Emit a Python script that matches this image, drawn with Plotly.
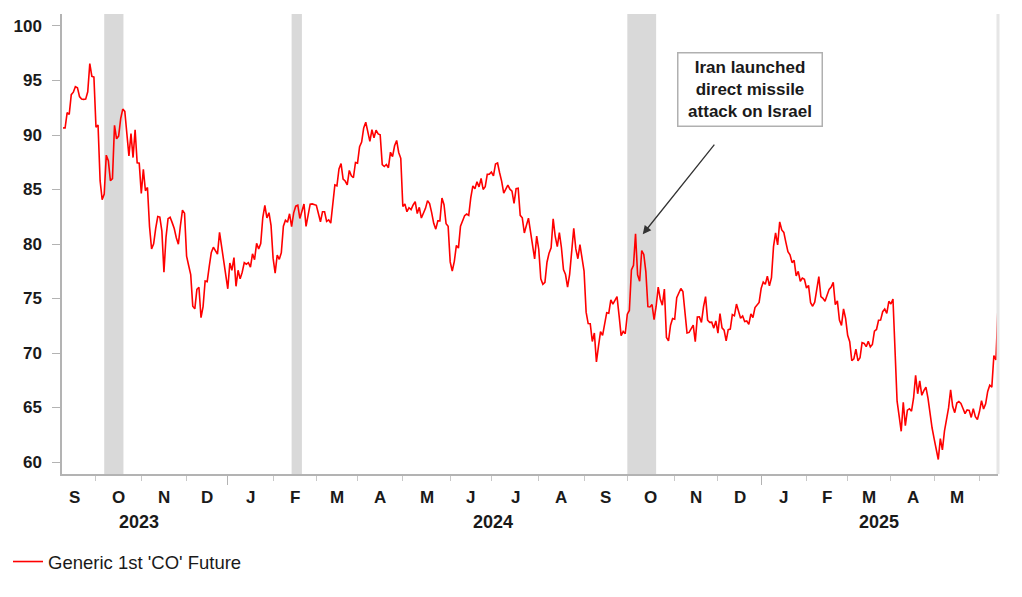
import pandas as pd
import plotly.graph_objects as go

# ---------------- data (daily closes) ----------------
sep23 = [90.65, 90.64, 92.06, 91.88, 93.70, 93.93, 94.43, 94.34, 93.53, 93.30, 93.27, 93.29, 93.96, 96.55, 95.38, 95.31]
oct23 = [90.71, 90.92, 85.81, 84.07, 84.58, 88.15, 87.65, 85.82, 86.00, 90.89, 89.65, 89.90, 91.50, 92.38, 92.16, 89.83,
         88.07, 90.13, 87.93, 90.48, 87.45, 87.41]
nov23 = [84.63, 86.85, 84.89, 85.18, 81.61, 79.54, 80.01, 81.43, 82.52, 82.47, 81.18, 77.42, 80.61, 82.32, 82.45, 81.96,
         81.42, 80.58, 79.98, 81.68, 83.10, 82.83]
dec23 = [78.88, 78.03, 77.20, 74.30, 74.05, 75.84, 76.03, 73.24, 74.26, 76.61, 76.55, 77.95, 79.23, 79.70, 79.39, 79.07,
         81.07, 79.65, 78.39, 77.04]
jan24 = [75.89, 78.25, 77.59, 78.76, 76.12, 77.59, 76.80, 77.41, 78.29, 78.15, 78.29, 77.88, 79.10, 78.56, 80.06, 79.55,
         80.04, 82.43, 83.55, 82.40, 82.87, 81.71]
feb24 = [78.70, 77.33, 78.99, 78.59, 79.21, 81.63, 82.19, 82.00, 82.77, 81.60, 82.86, 83.47, 83.56, 82.34, 83.03, 83.67,
         81.62, 82.53, 83.65, 83.68, 83.62]
mar24 = [83.55, 82.80, 82.04, 82.96, 82.96, 82.08, 82.21, 81.92, 84.03, 85.42, 85.34, 86.89, 87.38, 85.95, 85.78, 85.43,
         86.75, 86.25, 86.09, 87.48]
apr24 = [87.42, 88.92, 89.35, 90.65, 91.17, 90.38, 89.42, 90.48, 89.74, 90.45, 90.10, 90.02, 87.29, 87.11, 87.29, 87.00,
         88.42, 88.02, 89.01, 89.50, 88.40, 87.86]
may24 = [83.44, 83.67, 82.96, 83.33, 83.16, 83.58, 83.88, 82.79, 83.36, 82.38, 82.75, 83.27, 83.98, 83.71, 82.88, 81.90,
         81.36, 82.12, 82.12, 84.22, 83.60, 81.86, 81.62]
jun24 = [78.36, 77.52, 78.41, 79.87, 79.62, 81.63, 82.08, 82.60, 82.75, 82.62, 84.25, 85.33, 85.07, 85.71, 85.24, 86.01,
         85.01, 85.25, 86.39, 86.41]
jul24 = [86.60, 86.24, 87.34, 87.43, 86.54, 85.75, 84.66, 85.08, 85.40, 85.03, 84.85, 83.73, 85.08, 85.11, 82.63, 82.40,
         81.01, 81.71, 82.37, 81.13, 79.78, 78.63, 80.72]
aug24 = [79.52, 76.81, 76.30, 76.48, 78.33, 79.16, 79.66, 82.30, 80.69, 79.76, 81.04, 79.68, 77.66, 77.20, 76.05, 77.22,
         79.02, 81.43, 79.55, 78.65, 79.94, 78.80]
sep24 = [77.52, 73.75, 72.70, 72.69, 71.06, 71.84, 69.19, 70.61, 71.97, 71.61, 72.75, 73.70, 73.65, 74.88, 74.49, 74.90,
         75.17, 73.46, 71.60, 71.98, 71.77]
oct24 = [73.56, 73.90, 77.62, 78.05, 80.93, 77.18, 76.58, 79.40, 79.04, 77.46, 74.25, 74.22, 74.45, 73.06, 74.29, 76.04,
         74.96, 74.38, 75.86, 71.42, 71.12, 72.55, 73.16]
nov24 = [73.10, 75.08, 75.53, 75.92, 75.63, 73.87, 71.83, 71.89, 72.28, 72.56, 71.04, 73.30, 73.31, 72.81, 74.23, 75.17,
         73.01, 72.81, 72.83, 72.28, 72.94]
dec24 = [71.83, 73.62, 72.31, 72.09, 71.12, 72.14, 72.19, 73.52, 73.41, 74.49, 73.91, 73.19, 73.39, 72.88, 72.94, 72.63,
         73.58, 73.26, 74.17, 74.39, 74.64]
jan25 = [75.93, 76.51, 76.30, 77.05, 76.16, 76.92, 79.76, 81.01, 79.92, 82.03, 81.29, 81.06, 80.15, 79.29, 79.00, 78.29,
         78.50, 77.08, 77.49, 76.58, 76.87, 76.76]
feb25 = [75.96, 76.20, 74.61, 74.29, 74.66, 75.87, 77.00, 75.18, 75.02, 74.74, 75.22, 75.84, 76.04, 76.48, 74.43, 74.78,
         73.02, 72.53, 74.04, 73.18]
mar25 = [71.62, 71.04, 69.30, 69.46, 70.36, 69.28, 69.56, 70.95, 70.88, 70.58, 71.07, 70.56, 70.78, 72.00, 72.16, 73.00,
         73.02, 73.79, 74.03, 73.63, 74.74]
apr25 = [74.49, 74.95, 70.14, 65.58, 64.21, 62.82, 65.48, 63.33, 64.76, 64.88, 64.67, 65.85, 67.96, 66.26, 67.44, 66.12,
         66.55, 66.87, 65.86, 64.25, 63.12]
may25 = [62.13, 61.29, 60.23, 62.15, 61.12, 62.84, 63.91, 64.96, 66.63, 65.09, 64.53, 65.41, 65.54, 65.38, 64.91, 64.44,
         64.78, 64.74, 64.09, 64.90, 64.15, 63.90]
jun25 = [64.63, 65.63, 64.86, 65.34, 66.47, 67.04, 66.87, 69.77, 69.36, 74.23]

month_series = [sep23, oct23, nov23, dec23, jan24, feb24, mar24, apr24, may24, jun24, jul24, aug24,
                sep24, oct24, nov24, dec24, jan25, feb25, mar25, apr25, may25, jun25]
month_letters = ["S", "O", "N", "D", "J", "F", "M", "A", "M", "J", "J", "A", "S", "O", "N", "D", "J", "F", "M", "A", "M"]
year_labels = ["2023", "2024", "2025"]
year_label_dates = ["2023-10-31", "2024-07-02", "2025-03-24"]
holidays = ["2023-12-25", "2024-01-01", "2024-03-29", "2024-12-25", "2025-01-01", "2025-04-18"]
first_date, last_date = "2023-09-08", "2025-06-13"
event_bands = [("2023-10-06", "2023-10-19 08:00"), ("2024-02-14", "2024-02-21"), ("2024-10-01", "2024-10-21")]
series_name = "Generic 1st 'CO' Future"
event_text = "Iran launched<br>direct missile<br>attack on Israel"
event_point = ("2024-10-10 12:00", 80.9)

# ---------------- build date index ----------------
month_starts = pd.date_range("2023-09-01", "2025-06-01", freq="MS")
dates, values = [], []
for ms, vals in zip(month_starts, month_series):
    me = ms + pd.offsets.MonthEnd(0)
    s = max(ms, pd.Timestamp(first_date))
    e = min(me, pd.Timestamp(last_date))
    bd = pd.bdate_range(s, e, freq="C", holidays=holidays)
    if len(bd) != len(vals):
        raise ValueError(f"{ms:%Y-%m}: {len(bd)} days vs {len(vals)} values")
    dates.extend(bd)
    values.extend(vals)

# month boundary ticks (first trading day of each month) and label centres
boundary_ticks, label_pos = [], []
for ms in month_starts:
    me = ms + pd.offsets.MonthEnd(0)
    bd = pd.bdate_range(ms, me, freq="C", holidays=holidays)
    if ms > pd.Timestamp(first_date):
        boundary_ticks.append(bd[0])
    n = len(bd)
    mid = bd[n // 2] if n % 2 == 0 else bd[n // 2] + pd.Timedelta(hours=12)
    label_pos.append(mid)
year_ticks = [t for t in boundary_ticks if t.month == 1]

FONT = "Liberation Sans, Arial, sans-serif"
TXT = "#1a1a1a"
AX = "#b3b3b3"

# page body has an 8px margin: figure is sized so the plot area lands at 62..998 x 14..474
W, H = 1006, 581
ML, MT, PW, PH = 54, 6, 936, 460

fig = go.Figure()
fig.add_trace(go.Scatter(x=dates, y=values, mode="lines", name=series_name,
                         line=dict(color="#ff0000", width=1.6)))

for x0, x1 in event_bands:
    fig.add_shape(type="rect", xref="x", yref="paper", x0=x0, x1=x1, y0=0, y1=1,
                  fillcolor="#d9d9d9", line=dict(width=0), layer="below")

# right frame line
fig.add_shape(type="line", xref="paper", yref="paper", x0=1, x1=1, y0=0, y1=1,
              line=dict(color="#e6e6e6", width=3))

annotations = []
for pos, letter in zip(label_pos, month_letters):
    annotations.append(dict(x=pos, y=0, xref="x", yref="paper", text=letter, showarrow=False,
                            yanchor="middle", yshift=-23, font=dict(family=FONT, size=17, color=TXT, weight="bold")))
for d, lab in zip(year_label_dates, year_labels):
    annotations.append(dict(x=d, y=0, xref="x", yref="paper", text=lab, showarrow=False,
                            yanchor="middle", yshift=-48, font=dict(family=FONT, size=18, color=TXT, weight="bold")))
# event box
annotations.append(dict(x=(749.5 - 62) / PW, y=(474 - 89.5) / PH, xref="paper", yref="paper",
                        xanchor="center", yanchor="middle",
                        text=event_text, showarrow=False, align="center",
                        font=dict(family=FONT, size=17, color=TXT, weight="bold"),
                        bgcolor="white", bordercolor="#b0b0b0", borderwidth=1.5, borderpad=2,
                        width=139, height=68))
# arrow
annotations.append(dict(x=event_point[0], y=event_point[1], xref="x", yref="y", text="",
                        font=dict(size=1), borderpad=0,
                        showarrow=True, ax=72, ay=-90, arrowhead=2, arrowsize=1.3,
                        arrowwidth=1.3, arrowcolor="#333333", standoff=0))

fig.update_layout(
    width=W, height=H,
    margin=dict(l=ML, r=W - ML - PW, t=MT, b=H - MT - PH, autoexpand=False),
    paper_bgcolor="white", plot_bgcolor="white",
    font=dict(family=FONT, color=TXT),
    showlegend=True,
    legend=dict(x=(8 - 62) / PW, y=(474 - 562) / PH, xanchor="left", yanchor="middle",
                orientation="h", font=dict(family=FONT, size=18.5, color=TXT),
                bgcolor="rgba(0,0,0,0)"),
    annotations=annotations,
)
fig.update_xaxes(
    type="date",
    range=["2023-09-07 12:00", last_date],
    rangebreaks=[dict(bounds=["sat", "mon"]), dict(values=holidays)],
    showline=True, linecolor=AX, linewidth=1.5,
    showgrid=False, zeroline=False,
    tickmode="array", tickvals=year_ticks, ticks="outside", ticklen=9, tickwidth=1.2, tickcolor=AX,
    showticklabels=False,
    minor=dict(tickmode="array", tickvals=boundary_ticks, ticks="outside", ticklen=5, tickwidth=1.2,
               tickcolor="#c8c8c8", showgrid=False),
)
fig.update_yaxes(
    range=[58.9, 101.1],
    tickmode="array", tickvals=[60, 65, 70, 75, 80, 85, 90, 95, 100],
    ticks="outside", ticklen=8, tickwidth=1.2, tickcolor=AX, ticklabelstandoff=7,
    showline=True, linecolor=AX, linewidth=1.5,
    showgrid=False, zeroline=False,
    tickfont=dict(family=FONT, size=17, color=TXT, weight="bold"),
)

fig.write_html("out.html")
